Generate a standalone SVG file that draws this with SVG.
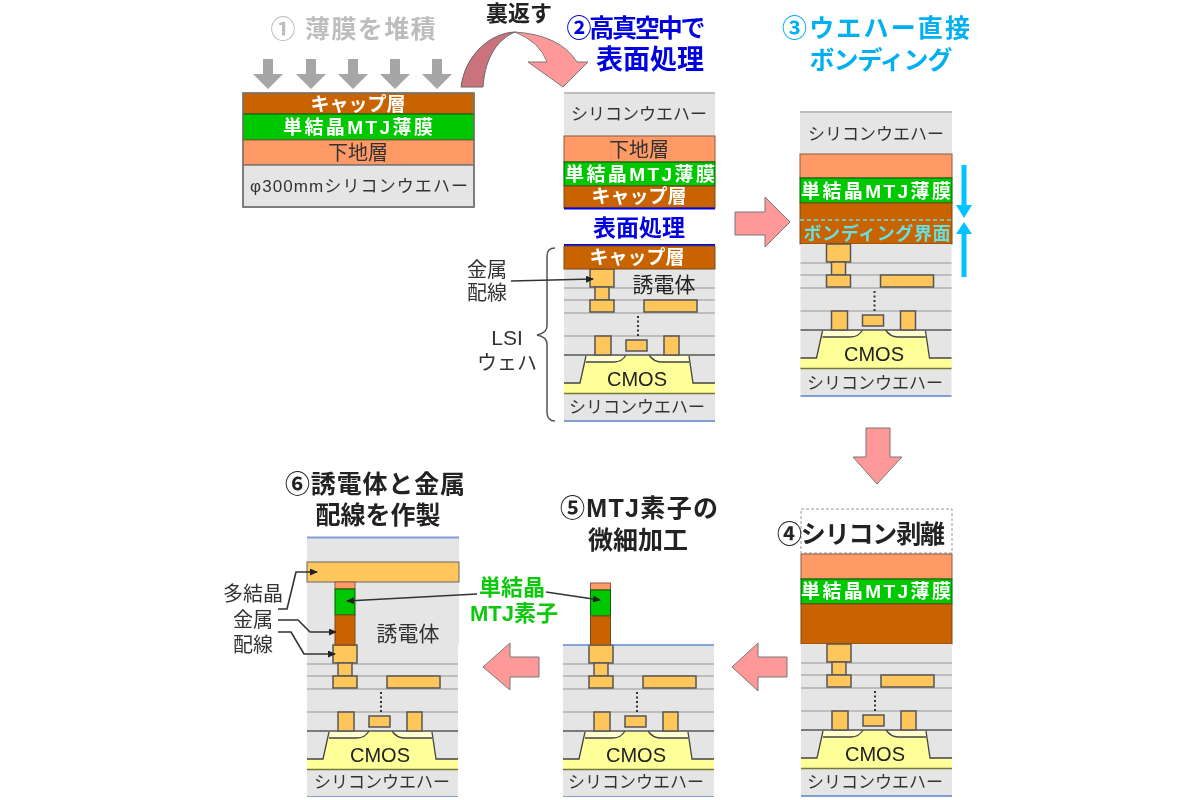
<svg xmlns="http://www.w3.org/2000/svg" width="1200" height="800" viewBox="0 0 1200 800">
<style>
text{font-family:"Liberation Sans","Noto Sans CJK JP",sans-serif;text-anchor:middle;fill:#333}
.t{font-size:25px;font-weight:700}
.l{font-size:19px;font-weight:700;fill:#fff}
.d{font-size:20px;fill:#333}
.w{font-size:17px;fill:#333}
.c{font-size:20px;fill:#222}
.si{fill:#e5e5e5}
.cap{fill:#c86400;stroke:#7a4a20;stroke-width:1}
.mtj{fill:#00c800;stroke:#0a5a0a;stroke-width:1}
.bas{fill:#ff9a66;stroke:#8a5a40;stroke-width:1}
.m{fill:#ffc65c;stroke:#555;stroke-width:1.5}
.g{stroke:#b0b0b0;stroke-width:1.5;fill:none}
.bl{stroke:#7f9fd4;stroke-width:2;fill:none}
.pink{fill:#ff9999;stroke:#777;stroke-width:1}
.ln{stroke:#333;stroke-width:1.6;fill:none}
</style>
<defs>
<marker id="ah" markerWidth="8" markerHeight="8" refX="7" refY="3.5" orient="auto" markerUnits="userSpaceOnUse"><path d="M0 0L8 3.5L0 7Z" fill="#222"/></marker>
<filter id="soft" x="0" y="0" width="1" height="1"><feGaussianBlur stdDeviation="0.6"/></filter>
<g id="lsi">
<rect class="si" width="151" height="152"/>
<path class="g" d="M0 19H151M0 31H151M0 44H151M0 67H151"/>
<path d="M0 114H16L22 87H125L129 114H151V124H0Z" fill="#ffff99"/>
<path d="M22 93H50Q58 93 62 86H85Q90 93 97 93H125L124 87H23Z" fill="#ffffd0"/>
<path d="M0 114H16L22 87M125 87L129 114H151M22 93H50Q58 93 62 86M85 86Q90 93 97 93H125" fill="none" stroke="#444" stroke-width="1.3"/>
<path d="M0 86H151" stroke="#555" stroke-width="1.6"/>
<path d="M0 124.500H151" stroke="#77773a" stroke-width="1.6"/>
<path class="bl" d="M0 152H151"/>
<rect class="m" x="26" y="0" width="24" height="18"/>
<rect class="m" x="31" y="18" width="14" height="13"/>
<rect class="m" x="26" y="31" width="24" height="12"/>
<rect class="m" x="80" y="31" width="53" height="12"/>
<rect class="m" x="31" y="67" width="16" height="19"/>
<rect class="m" x="62" y="71" width="21" height="11"/>
<rect class="m" x="100" y="67" width="15" height="19"/>
<path d="M74 47V67" stroke="#333" stroke-width="2" stroke-dasharray="2 2.500"/>
</g>
<path id="pd" d="M-5 0H5V15H15L0 30L-15 15H-5Z" fill="#a6a6a6"/>
</defs>
<g filter="url(#soft)">
<g id="step1">
<text class="t" x="353" y="38" textLength="165" style="fill:#bdbdbd">① 薄膜を堆積</text>
<use href="#pd" x="268" y="59"/><use href="#pd" x="311" y="59"/><use href="#pd" x="353" y="59"/><use href="#pd" x="395" y="59"/><use href="#pd" x="437" y="59"/>
<rect class="cap" x="243" y="93" width="231" height="21"/>
<rect class="mtj" x="243" y="114" width="231" height="26"/>
<rect class="bas" x="243" y="140" width="231" height="25"/>
<rect class="si" x="243" y="165" width="231" height="42" stroke="#777" stroke-width="1.5"/>
<rect x="243" y="93" width="231" height="114" fill="none" stroke="#777" stroke-width="1.500"/>
<text class="l" x="358" y="111">キャップ層</text>
<text class="l" x="358" y="134" textLength="150">単結晶MTJ薄膜</text>
<text class="d" x="358" y="160">下地層</text>
<text class="w" x="359" y="192" textLength="218" lengthAdjust="spacing">φ300mmシリコンウエハー</text>
</g>
<g id="flip">
<text class="c" x="519" y="21" style="font-weight:700;font-size:22px">裏返す</text>
<path d="M461 87C465 55 490 33 515 32C500 38 485 55 483 87Z" fill="#c9737c" stroke="#666" stroke-width="1"/>
<path class="pink" d="M515 32Q560 35 577 62H588L563 87L528 62H547Q540 42 515 32Z"/>
</g>
<g id="step2">
<text class="t" x="636" y="37" textLength="139" style="fill:#0000e0">②高真空中で</text>
<text class="t" x="650" y="69" style="fill:#0000e0;font-size:27px">表面処理</text>
<rect class="si" x="564" y="92" width="151" height="44"/>
<path class="g" d="M564 93H715"/>
<rect class="bas" x="564" y="136" width="151" height="26"/>
<rect class="mtj" x="564" y="162" width="151" height="24"/>
<rect class="cap" x="564" y="186" width="151" height="22"/>
<path d="M564 208.500H715M564 245H715" stroke="#0000e0" stroke-width="2"/>
<text class="w" x="639" y="120">シリコンウエハー</text>
<text class="d" x="639" y="157">下地層</text>
<text class="l" x="640" y="181" textLength="150">単結晶MTJ薄膜</text>
<text class="l" x="639" y="203">キャップ層</text>
<text class="t" x="639" y="236" style="fill:#0000e0;font-size:23px">表面処理</text>
<use href="#lsi" x="564" y="269"/>
<rect class="cap" x="564" y="246" width="151" height="23"/>
<text class="l" x="637" y="264">キャップ層</text>
<text class="c" x="664" y="292" style="font-size:21px">誘電体</text>
<text class="c" x="637" y="386" style="font-size:20px">CMOS</text>
<text class="w" x="637" y="413">シリコンウエハー</text>
</g>
<g id="labels2">
<text class="d" x="487" y="277">金属</text>
<text class="d" x="487" y="300">配線</text>
<text class="d" x="507" y="345" style="font-size:21px">LSI</text>
<text class="d" x="507" y="370">ウェハ</text>
<path d="M555 248Q547 248 547 256V326Q547 333 537 335Q547 337 547 344V412Q547 421 555 421" fill="none" stroke="#555" stroke-width="1.5"/>
</g>
<g id="step3">
<text class="t" x="876" y="37" textLength="188" style="fill:#00b0f0">③ウエハー直接</text>
<text class="t" x="881" y="69" textLength="143" style="fill:#00b0f0">ボンディング</text>
<rect class="si" x="800" y="111" width="152" height="43"/>
<path class="g" d="M800 112H952"/>
<rect class="bas" x="800" y="154" width="152" height="24"/>
<rect class="mtj" x="800" y="178" width="152" height="25"/>
<rect class="cap" x="800" y="203" width="152" height="41"/>
<path d="M800 220H952" stroke="#66dddd" stroke-width="1.500" stroke-dasharray="4 3"/>
<text class="w" x="876" y="140">シリコンウエハー</text>
<text class="l" x="876" y="198" textLength="150">単結晶MTJ薄膜</text>
<text class="l" x="877" y="240" style="fill:#66e0e0;font-size:18px" textLength="147">ボンディング界面</text>
<use href="#lsi" x="800.500" y="244"/>
<text class="c" x="874" y="361" style="font-size:20px">CMOS</text>
<text class="w" x="875" y="389">シリコンウエハー</text>
<path d="M964 165V207M964 232V277" stroke="#00c4ff" stroke-width="5"/>
<path d="M956 205H972L964 218ZM956 234H972L964 222Z" fill="#00c4ff"/>
</g>
<g id="step4">
<rect x="801" y="509" width="151" height="44" fill="#fff" stroke="#999" stroke-width="1" stroke-dasharray="3 2"/>
<text class="t" x="861" y="543" textLength="168" style="fill:#222">④シリコン剥離</text>
<rect class="bas" x="801" y="554" width="151" height="25"/>
<rect class="mtj" x="801" y="579" width="151" height="25"/>
<rect class="cap" x="801" y="604" width="151" height="40"/>
<text class="l" x="876" y="598" textLength="150">単結晶MTJ薄膜</text>
<use href="#lsi" x="801" y="644"/>
<text class="c" x="875" y="761" style="font-size:20px">CMOS</text>
<text class="w" x="875" y="788">シリコンウエハー</text>
</g>
<g id="step5">
<text class="t" x="639" y="517" textLength="158" style="fill:#222">⑤MTJ素子の</text>
<text class="t" x="638" y="549" style="fill:#222">微細加工</text>
<use href="#lsi" x="563" y="645"/>
<path d="M563 645H714" stroke="#5f88cc" stroke-width="1.500"/>
<rect class="bas" x="590.500" y="583" width="20" height="7"/>
<rect class="mtj" x="590.500" y="590" width="20" height="26"/>
<rect class="cap" x="590.500" y="616" width="20" height="29"/>
<text class="c" x="636" y="762" style="font-size:20px">CMOS</text>
<text class="w" x="636" y="788">シリコンウエハー</text>
</g>
<g id="step6">
<text class="t" x="375" y="493" textLength="180" style="fill:#222">⑥誘電体と金属</text>
<text class="t" x="378" y="524" style="fill:#222">配線を作製</text>
<rect class="si" x="307" y="537" width="152" height="108"/>
<path d="M307 537.500H459" stroke="#7f9fd4" stroke-width="2"/>
<use href="#lsi" x="307" y="645"/>
<rect x="307" y="562" width="152" height="20" fill="#ffc65c" stroke="#666" stroke-width="1"/>
<rect class="bas" x="335" y="582" width="20" height="7"/>
<rect class="mtj" x="335" y="589" width="20" height="26"/>
<rect class="cap" x="335" y="615" width="20" height="30"/>
<text class="d" x="408" y="641" style="font-size:21px">誘電体</text>
<text class="c" x="380" y="762" style="font-size:20px">CMOS</text>
<text class="w" x="382" y="788">シリコンウエハー</text>
<text class="d" x="253" y="601">多結晶</text>
<text class="d" x="253" y="627">金属</text>
<text class="d" x="253" y="652">配線</text>
</g>
<g id="mtjlabel">
<text class="c" x="512" y="595" style="fill:#10c810;font-weight:700;font-size:22px">単結晶</text>
<text class="c" x="514" y="621" style="fill:#10c810;font-weight:700;font-size:22px">MTJ素子</text>
</g>
<g id="connectors">
<path class="ln" marker-end="url(#ah)" d="M511 281L593 279"/>
<path class="ln" marker-end="url(#ah)" d="M278 609H287L296 572H317"/>
<path class="ln" marker-end="url(#ah)" d="M278 620H298L310 632H336"/>
<path class="ln" marker-end="url(#ah)" d="M278 632H291L304 654H335"/>
<path class="ln" marker-end="url(#ah)" d="M477 594L347 601"/>
<path class="ln" marker-end="url(#ah)" d="M546 592L600 600"/>
<path class="pink" d="M735 212H765V197L790 222L765 247V235H735Z"/>
<path class="pink" d="M866 428H890V457H902L877 484L853 457H866Z"/>
<path class="pink" d="M787 657V677H758V691L732 667L758 643V657Z"/>
<path class="pink" d="M539 657V677H510V690L483 667L510 643V657Z"/>
</g>
</g>
</svg>
